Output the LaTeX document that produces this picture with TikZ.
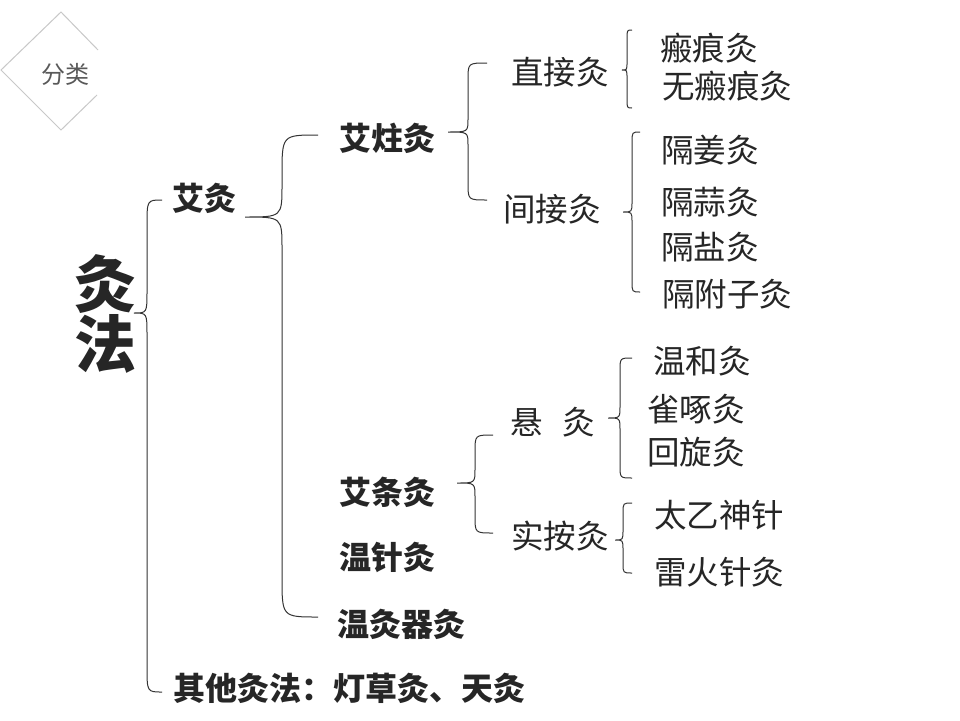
\documentclass[tikz,border=0pt]{standalone}
\usepackage{fontspec}
\setmainfont{Noto Sans CJK SC}
\definecolor{txt}{HTML}{262626}
\definecolor{brc}{HTML}{333333}
\definecolor{dia}{HTML}{C8C8C8}
\newcommand\mybrace[8]{% ex vx tx top tip bot d1 d2
  \draw[bracestyle] (#1,#4) .. controls (#2,#4) .. (#2,#4+#7) -- (#2,#5-#8)
    .. controls (#2,#5) .. (#3,#5) .. controls (#2,#5) .. (#2,#5+#8)
    -- (#2,#6-#7) .. controls (#2,#6) .. (#1,#6);}
\begin{document}
\begin{tikzpicture}[x=1pt,y=-1pt,
  bracestyle/.style={draw=brc,line width=1pt},
  reg/.style={inner sep=0pt,text=txt,font=\fontsize{32.5}{32.5}\selectfont},
  bld/.style={inner sep=0pt,text=txt,font=\fontsize{32}{32}\selectfont\bfseries},
]
\useasboundingbox[fill=white] (0,0) rectangle (960,720);
% diamond
\draw[dia,line width=1pt] (98,50) -- (61,12) -- (1,70) -- (61,130) -- (97,95);
\node[inner sep=0pt,text=black!65,font=\fontsize{24}{24}\selectfont] (fl) at (65,74) {分类};
% title
\node[inner sep=0pt,text=txt,font=\fontsize{62}{60}\selectfont\bfseries,align=center] (title) at (105,314) {灸\\法};
% level 1
\node[bld] (aj) at (204,198) {艾灸};
\node[bld] (other) at (349,688) {其他灸法：灯草灸、天灸};
% level 2
\node[bld] (azj) at (387,138) {艾炷灸};
\node[bld] (atj) at (387,492) {艾条灸};
\node[bld] (wzj) at (387,557) {温针灸};
\node[bld] (wjqj) at (401,624) {温灸器灸};
% level 3
\node[reg] (zjj) at (560,72) {直接灸};
\node[reg] (jjj) at (552,209) {间接灸};
\node[reg] (xj) at (553,422) {悬\hspace{0.6em}灸};
\node[reg] (saj) at (560,536) {实按灸};
% level 4
\node[reg] (bhj) at (709,48) {瘢痕灸};
\node[reg] (wbhj) at (727,86) {无瘢痕灸};
\node[reg] (gjj) at (710,150) {隔姜灸};
\node[reg] (gsj) at (710,202) {隔蒜灸};
\node[reg] (gyj) at (710,247) {隔盐灸};
\node[reg] (gfzj) at (727,294) {隔附子灸};
\node[reg] (whj) at (702,361) {温和灸};
\node[reg] (qzj) at (696,409) {雀啄灸};
\node[reg] (hxj) at (696,452) {回旋灸};
\node[reg] (tysz) at (719,515) {太乙神针};
\node[reg] (lhzj) at (719,572) {雷火针灸};
% braces
\mybrace{162}{147}{134}{200}{313}{692}{26}{22}
\mybrace{318}{282}{245}{135}{217}{617}{40}{32}
\mybrace{487}{468}{448}{63}{132}{200}{17}{13}
\mybrace{632}{627}{622}{30}{70}{108}{9}{8}
\mybrace{640}{632}{623}{132}{212}{292}{11}{10}
\mybrace{493}{475}{457}{435}{483}{533}{17}{14}
\mybrace{632}{620}{608}{358}{418}{478}{13}{12}
\mybrace{632}{623}{615}{503}{540}{573}{10}{10}
\end{tikzpicture}
\end{document}
